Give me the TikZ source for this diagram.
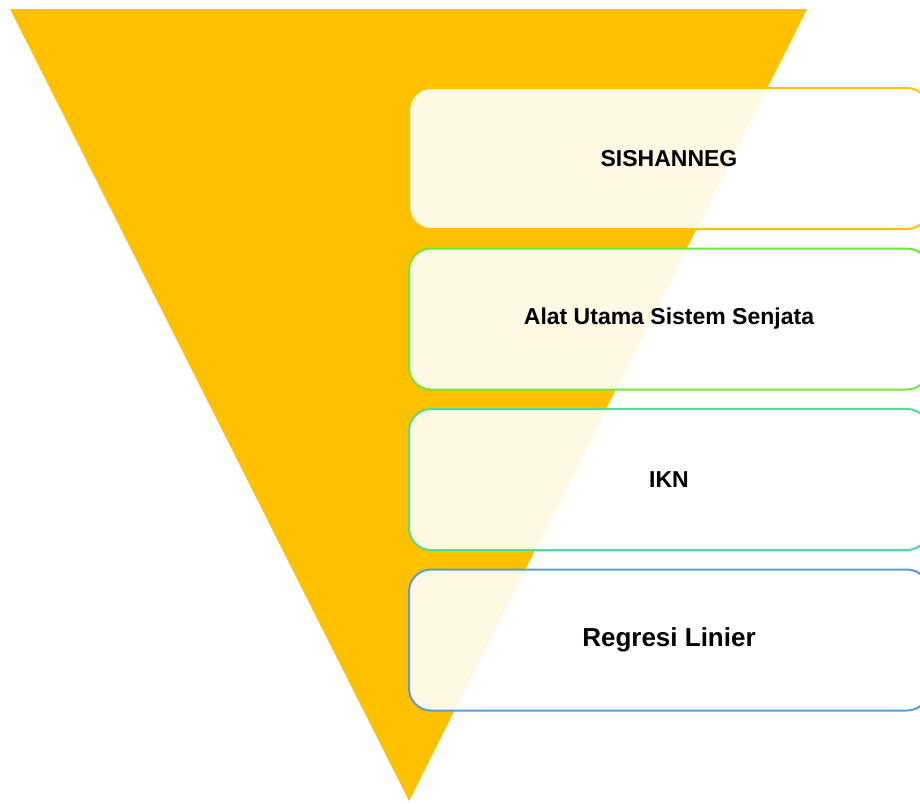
\documentclass[tikz,border=0pt]{standalone}
\usepackage{fontspec}
\setmainfont{Liberation Sans}
\usetikzlibrary{positioning}
\definecolor{funnel}{HTML}{FFC000}
\definecolor{greenline}{HTML}{6EE83A}
\definecolor{tealline}{HTML}{50DC96}
\definecolor{blueline}{HTML}{5B9BD5}

\begin{document}
\begin{tikzpicture}[x=1pt, y=-1pt, node distance=160.5pt, on grid,
        layer/.style={draw, line width=2pt, rounded corners=22pt, fill=white, fill opacity=0.89, text opacity=1,
            minimum width=520pt, minimum height=141pt, inner sep=0pt, font=\bfseries\fontsize{23}{27}\selectfont}]
        \useasboundingbox (0,0) rectangle (920,803);
        \clip (0,0) rectangle (920,803);

        % funnel
        \fill[funnel] (10,9) -- (807,9) -- (409,801) -- cycle;

        \node[layer, draw=funnel] (sishanneg) at (669,158.5) {SISHANNEG};
        \node[layer, draw=greenline, below=of sishanneg] (alutsista) {Alat Utama Sistem Senjata};
        \node[layer, draw=tealline, below=of alutsista] (ikn) {IKN};
        \node[layer, draw=blueline, below=of ikn, font=\bfseries\fontsize{26}{30}\selectfont] (regresi) {Regresi Linier};
    \end{tikzpicture}
\end{document}
